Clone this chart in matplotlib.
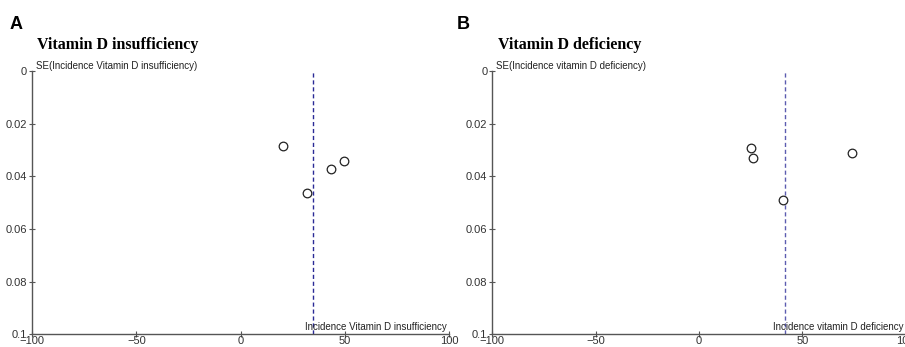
import matplotlib.pyplot as plt
from matplotlib.ticker import FuncFormatter

# panel A: vitamin D insufficiency
ins_effect = [20.4, 43.2, 49.5, 31.9]
ins_se = [0.0284, 0.0374, 0.0340, 0.0465]
ins_pooled = 34.8

# panel B: vitamin D deficiency
def_effect = [25.0, 26.3, 74.1, 40.7]
def_se = [0.0294, 0.0331, 0.0312, 0.0490]
def_pooled = 41.6

xticks = [-100, -50, 0, 50, 100]
yticks = [0, 0.02, 0.04, 0.06, 0.08, 0.1]

panels = [
    dict(letter='A', title='Vitamin D insufficiency',
         ylab='SE(Incidence Vitamin D insufficiency)',
         xlab='Incidence Vitamin D insufficiency',
         x=ins_effect, y=ins_se, pooled=ins_pooled, line_col='#2a2a96',
         pos=[0.0354, 0.0366, 0.461, 0.7588], letter_x=0.011),
    dict(letter='B', title='Vitamin D deficiency',
         ylab='SE(Incidence vitamin D deficiency)',
         xlab='Incidence vitamin D deficiency',
         x=def_effect, y=def_se, pooled=def_pooled, line_col='#5c5cb0',
         pos=[0.544, 0.0366, 0.4568, 0.7588], letter_x=0.505),
]

tick_font = 'Liberation Sans'

def fmt(v, _):
    return ('%g' % round(v, 3))

fig = plt.figure(figsize=(9.05, 3.47), dpi=100)

for p in panels:
    ax = fig.add_axes(p['pos'])
    ax.axvline(p['pooled'], color=p['line_col'], ls=(0, (3, 2)), lw=1.0, zorder=1)
    ax.plot(p['x'], p['y'], 'o', mfc='white', mec='#222222', mew=0.9, ms=6.2, zorder=3)
    ax.set_xlim(-100, 100)
    ax.set_ylim(0.1, 0)
    ax.set_xticks(xticks)
    ax.set_yticks(yticks)
    ax.yaxis.set_major_formatter(FuncFormatter(fmt))
    for s in ['top', 'right']:
        ax.spines[s].set_visible(False)
    for s in ['left', 'bottom']:
        ax.spines[s].set_color('#555555')
        ax.spines[s].set_linewidth(1.0)
    ax.tick_params(direction='inout', length=5, width=0.8, color='#555555',
                   labelsize=8, labelcolor='#333333', pad=1)
    ax.tick_params(axis='x', pad=-1)
    for lab in ax.get_xticklabels() + ax.get_yticklabels():
        lab.set_fontfamily(tick_font)
    ax.text(0.01, 1.0, p['ylab'], transform=ax.transAxes, ha='left', va='bottom',
            fontsize=7, family=tick_font, color='#222222')
    ax.text(0.995, 0.01, p['xlab'], transform=ax.transAxes, ha='right', va='bottom',
            fontsize=7, family=tick_font, color='#222222')
    fig.text(p['letter_x'], 0.915, p['letter'], fontsize=13, fontweight='bold',
             family='Liberation Sans')
    fig.text(p['pos'][0] + 0.006, 0.86, p['title'], fontsize=11.5, fontweight='bold',
             family='Liberation Serif')

fig.savefig('out.png', dpi=100)
